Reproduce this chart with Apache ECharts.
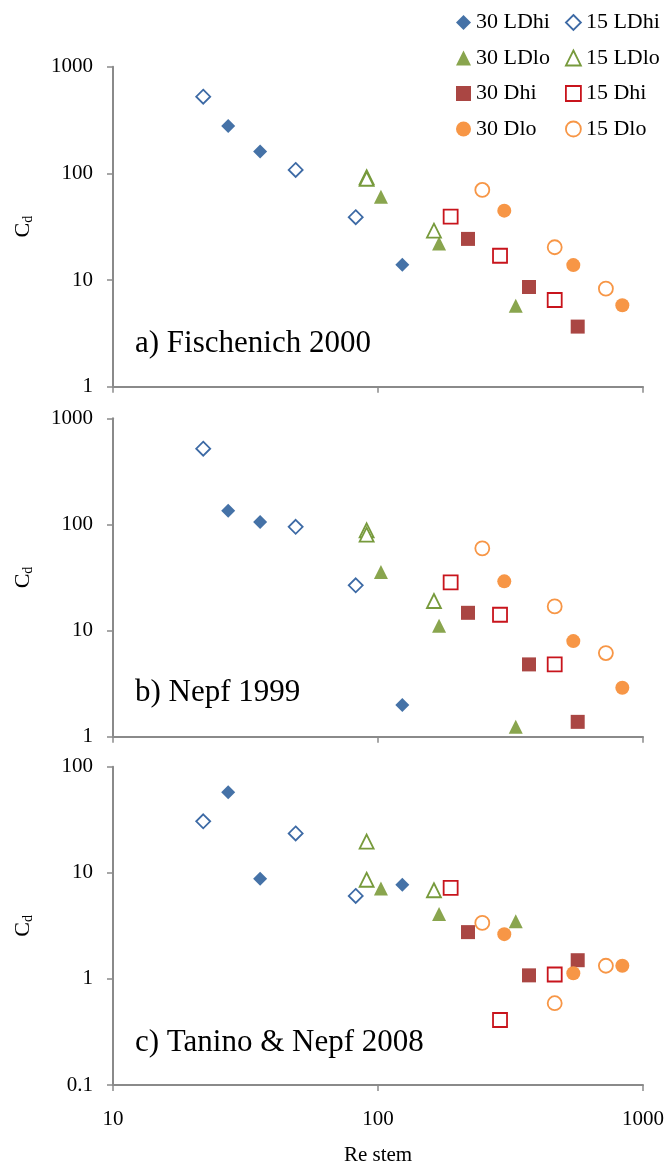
<!DOCTYPE html>
<html>
<head>
<meta charset="utf-8">
<script src="https://cdn.jsdelivr.net/npm/echarts@6/dist/echarts.min.js"></script>
<style>
  html, body { margin: 0; padding: 0; background: #fff; }
  #chart { width: 667px; height: 1169px; }
</style>
</head>
<body>
<div id="chart"></div>
<script>
// Series names (legend order: left column = 30, right column = 15)
const seriesNames = ['30 LDhi', '15 LDhi', '30 LDlo', '15 LDlo', '30 Dhi', '15 Dhi', '30 Dlo', '15 Dlo'];

// Stem Reynolds number for each run, per series
const reStem = [
  [27.2, 35.9, 123.5],
  [21.9, 48.9, 82.4],
  [102.6, 170, 331],
  [90.6, 90.6, 162.6],
  [218.6, 371.4, 567],
  [188, 288.7, 464.3],
  [299.6, 545.8, 835.6],
  [247.5, 464.3, 724.4]
];

// Drag coefficient, Fischenich 2000
const cdFischenich2000 = [
  [278, 160, 13.9],
  [523, 107.6, 38.8],
  [60.5, 22, 5.75],
  [92, 89, 29],
  [24.3, 8.6, 3.66],
  [39.3, 16.9, 6.5],
  [44.7, 13.8, 5.8],
  [69.9, 20.3, 8.3]
];

// Drag coefficient, Nepf 1999
const cdNepf1999 = [
  [134.6, 105.3, 1.99],
  [517, 95, 26.7],
  [35.6, 11.1, 1.24],
  [88, 80, 19],
  [14.7, 4.8, 1.38],
  [28.5, 14.1, 4.8],
  [29.1, 7.96, 2.89],
  [59.5, 16.9, 6.14]
];

// Drag coefficient, Tanino & Nepf 2008
const cdTaninoNepf2008 = [
  [57.4, 8.8, 7.7],
  [30.6, 23.5, 6.05],
  [7.1, 4.1, 3.5],
  [19.7, 8.6, 6.85],
  [2.76, 1.08, 1.5],
  [7.2, 0.41, 1.10],
  [2.64, 1.13, 1.33],
  [3.37, 0.59, 1.33]
];

const panelTitles = ['a) Fischenich 2000', 'b) Nepf 1999', 'c) Tanino & Nepf 2008'];
const yRanges = [[1, 1000], [1, 1000], [0.1, 100]];
const xRange = [10, 1000];

// Marker styles
const markerStyles = [
  { symbol: 'diamond',  fill: '#4572A7', stroke: null },
  { symbol: 'diamond',  fill: '#ffffff', stroke: '#3D6AA5' },
  { symbol: 'triangle', fill: '#89A54E', stroke: null },
  { symbol: 'triangle', fill: '#ffffff', stroke: '#779A3C' },
  { symbol: 'rect',     fill: '#AA4643', stroke: null },
  { symbol: 'rect',     fill: '#ffffff', stroke: '#C8141C' },
  { symbol: 'circle',   fill: '#F79646', stroke: null },
  { symbol: 'circle',   fill: '#ffffff', stroke: '#F79646' }
];

const FONT = "'Liberation Serif', 'Times New Roman', serif";
const AXIS_COLOR = '#8a8a8a';
const panels = [cdFischenich2000, cdNepf1999, cdTaninoNepf2008];

const grids = [
  { left: 113, right: 24, top: 66.7, height: 320 },
  { left: 113, right: 24, top: 418.3, height: 318.4 },
  { left: 113, right: 24, top: 766.7, height: 318.3 }
];

function itemStyleOf(m) {
  return m.stroke
    ? { color: m.fill, borderColor: m.stroke, borderWidth: 1.8, opacity: 1 }
    : { color: m.fill, borderWidth: 0, opacity: 1 };
}

const xAxes = grids.map((g, i) => ({
  type: 'log', logBase: 10, gridIndex: i,
  min: xRange[0], max: xRange[1],
  axisLine: { lineStyle: { color: AXIS_COLOR, width: 2 } },
  axisTick: { show: true, inside: false, length: 6, lineStyle: { color: AXIS_COLOR, width: 1.5 } },
  splitLine: { show: false },
  axisLabel: {
    show: i === 2, margin: 24, fontFamily: FONT, fontSize: 21, color: '#000',
    formatter: v => String(v)
  },
  name: i === 2 ? 'Re stem' : '',
  nameLocation: 'middle', nameGap: 60,
  nameTextStyle: { fontFamily: FONT, fontSize: 21, color: '#000' }
}));

const yAxes = grids.map((g, i) => ({
  type: 'log', logBase: 10, gridIndex: i,
  min: yRanges[i][0], max: yRanges[i][1],
  axisLine: { show: true, lineStyle: { color: AXIS_COLOR, width: 2 } },
  axisTick: { show: true, inside: false, length: 6, lineStyle: { color: AXIS_COLOR, width: 1.5 } },
  splitLine: { show: false },
  axisLabel: {
    margin: 20, fontFamily: FONT, fontSize: 21, color: '#000',
    formatter: v => String(v)
  },
  name: '{c|C}{d|d}',
  nameLocation: 'middle', nameRotate: 90, nameGap: 78,
  nameTextStyle: {
    rich: {
      c: { fontFamily: FONT, fontSize: 22, color: '#000', lineHeight: 24 },
      d: { fontFamily: FONT, fontSize: 14, color: '#000', lineHeight: 24, padding: [10, 0, 0, 0] }
    }
  }
}));

const series = [];
panels.forEach((cd, p) => {
  seriesNames.forEach((name, s) => {
    const m = markerStyles[s];
    series.push({
      type: 'scatter', name: name,
      xAxisIndex: p, yAxisIndex: p,
      symbol: m.symbol, symbolSize: 14,
      itemStyle: itemStyleOf(m),
      emphasis: { disabled: true },
      data: reStem[s].map((re, k) => [re, cd[s][k]])
    });
  });
});

function legendData(filter) {
  return seriesNames
    .map((name, s) => ({ name, s }))
    .filter(o => filter(o.name))
    .map(o => {
      const m = markerStyles[o.s];
      return {
        name: o.name, icon: m.symbol,
        itemStyle: m.stroke
          ? { color: m.fill, borderColor: m.stroke, borderWidth: 1.8 }
          : { color: m.fill, borderWidth: 0 }
      };
    });
}

const legendCommon = {
  orient: 'vertical', top: 11.5, padding: 0,
  itemWidth: 15, itemHeight: 15, itemGap: 13.5,
  selectedMode: false,
  textStyle: { fontFamily: FONT, fontSize: 22, color: '#000', lineHeight: 22 }
};

const graphics = panelTitles.map((t, i) => ({
  type: 'text', left: 135, top: [344, 693, 1043][i] - 16,
  style: { text: t, font: "31px 'Liberation Serif', serif", fill: '#000' }
}));

const chart = echarts.init(document.getElementById('chart'), null, { renderer: 'canvas' });
chart.setOption({
  backgroundColor: '#fff',
  animation: false,
  grid: grids,
  xAxis: xAxes,
  yAxis: yAxes,
  legend: [
    Object.assign({ left: 456, data: legendData(n => n.startsWith('30')) }, legendCommon),
    Object.assign({ left: 565, data: legendData(n => n.startsWith('15')) }, legendCommon)
  ],
  graphic: graphics,
  series: series
});
</script>
</body>
</html>
